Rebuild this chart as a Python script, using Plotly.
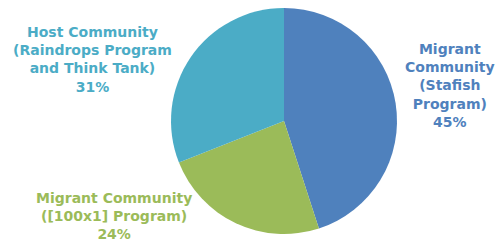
import plotly.graph_objects as go

categories = ["Migrant Community (Stafish Program)",
              "Migrant Community ([100x1] Program)",
              "Host Community (Raindrops Program and Think Tank)"]
values = [45, 24, 31]
colors = ["#4f81bd", "#9bbb59", "#4bacc6"]
label_texts = ["Migrant<br>Community<br>(Stafish<br>Program)<br>45%",
               "Migrant Community<br>([100x1] Program)<br>24%",
               "Host Community<br>(Raindrops Program<br>and Think Tank)<br>31%"]

W, H = 497, 243
cx, cy, r = 284, 121, 113

fig = go.Figure(go.Pie(
    labels=categories, values=values, sort=False, direction="clockwise",
    rotation=0, textinfo="none", hoverinfo="label+percent",
    marker=dict(colors=colors, line=dict(width=0)),
    domain=dict(x=[(cx - r) / W, (cx + r) / W],
                y=[(H - cy - r) / H, (H - cy + r) / H]),
    showlegend=False,
))

label_pos = [(450, 85), (114, 216), (92, 59.5)]
for txt, col, (lx, ly) in zip(label_texts, colors, label_pos):
    fig.add_annotation(
        x=lx / W, y=1 - ly / H, xref="paper", yref="paper",
        text="<b>" + txt + "</b>", showarrow=False, align="center",
        xanchor="center", yanchor="middle",
        font=dict(family="DejaVu Sans", size=14, color=col),
    )

fig.update_layout(width=W, height=H, margin=dict(l=0, r=0, t=0, b=0),
                  paper_bgcolor="white", plot_bgcolor="white")
fig.write_html("out.html", config={"displayModeBar": False},
               post_script="document.body.style.margin='0';document.body.style.overflow='hidden';")
